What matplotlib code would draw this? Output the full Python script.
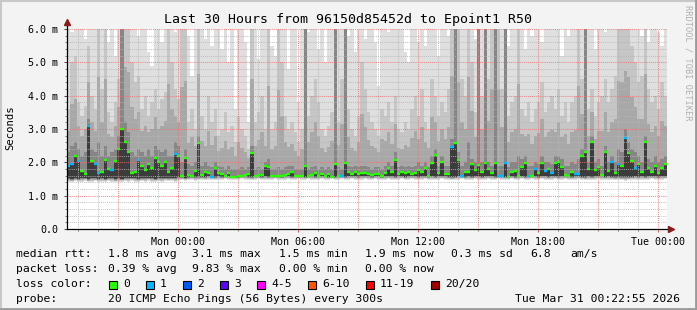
import numpy as np
import matplotlib
matplotlib.use("Agg")
import matplotlib.pyplot as plt
from matplotlib.patches import Rectangle
from matplotlib.lines import Line2D

# 10 minute steps, hours relative to Mon 00:00
t_start = -5.55
step_h = 1 / 6

med = [1.90, 1.95, 2.20, 2.04, 1.74, 1.65, 3.10, 2.04, 1.95, 1.67,
       1.72, 2.06, 1.80, 1.77, 2.04, 2.39, 3.01, 2.60, 2.30, 1.67,
       1.72, 2.06, 1.89, 1.77, 1.96, 1.82, 2.12, 2.01, 1.88, 2.01,
       1.72, 1.84, 2.24, 2.20, 1.60, 2.14, 1.62, 1.60, 1.74, 2.57,
       1.62, 1.72, 1.67, 1.55, 1.82, 1.67, 1.64, 1.60, 1.67, 1.57,
       1.55, 1.58, 1.60, 1.62, 1.64, 2.29, 1.60, 1.62, 1.62, 1.89,
       1.87, 1.58, 1.60, 1.58, 1.60, 1.62, 1.66, 1.72, 1.60, 1.58,
       1.60, 1.89, 1.58, 1.62, 1.67, 1.60, 1.64, 1.58, 1.66, 1.55,
       1.94, 1.60, 1.58, 1.99, 1.72, 1.64, 1.72, 1.66, 1.67, 1.67,
       1.64, 1.62, 1.66, 1.64, 1.58, 1.67, 1.84, 1.72, 2.07, 1.64,
       1.72, 1.67, 1.72, 1.64, 1.67, 1.77, 1.72, 1.84, 1.60, 1.99,
       2.22, 1.67, 2.02, 1.66, 1.64, 2.47, 2.57, 2.07, 1.60, 1.72,
       1.72, 1.94, 1.77, 1.91, 1.72, 1.97, 1.80, 1.67, 1.97, 1.58,
       1.60, 1.99, 1.57, 1.72, 1.74, 1.60, 1.87, 1.99, 1.60, 1.60,
       1.80, 1.67, 1.97, 1.74, 1.80, 1.67, 1.99, 2.02, 1.87, 1.62,
       1.58, 1.72, 1.64, 1.64, 2.20, 2.32, 1.80, 2.60, 1.77, 1.87,
       1.62, 2.32, 1.74, 2.02, 1.67, 1.94, 1.89, 2.74, 2.27, 2.04,
       1.84, 1.94, 1.72, 2.60, 1.84, 1.72, 1.89, 1.67, 1.84, 1.94]

loss = [1, 1, 0, 1, 0, 0, 1, 0, 1, 1,
        0, 0, 0, 1, 0, 0, 0, 0, 0, 0,
        0, 1, 0, 0, 0, 0, 0, 0, 0, 0,
        0, 0, 1, 0, 0, 0, 0, 0, 0, 0,
        0, 0, 0, 1, 0, 0, 0, 0, 0, 0,
        0, 0, 0, 0, 0, 0, 0, 0, 0, 0,
        0, 0, 0, 0, 0, 0, 0, 0, 0, 0,
        0, 0, 0, 0, 0, 0, 0, 0, 0, 0,
        0, 0, 1, 0, 0, 0, 0, 0, 0, 0,
        0, 0, 0, 0, 0, 0, 0, 0, 0, 0,
        0, 0, 0, 0, 0, 0, 0, 0, 0, 0,
        0, 0, 0, 0, 0, 1, 0, 0, 1, 0,
        0, 0, 0, 0, 0, 0, 0, 0, 0, 1,
        1, 1, 0, 0, 0, 0, 0, 0, 1, 0,
        1, 0, 0, 1, 0, 1, 0, 0, 0, 0,
        0, 0, 1, 1, 0, 0, 0, 0, 0, 0,
        0, 0, 0, 1, 0, 1, 0, 1, 0, 0,
        1, 0, 0, 0, 0, 0, 0, 0, 0, 0]

# smoke: lowest ping, dark core top, medium grey top, highest ping
lo = [1.42, 1.40, 1.43, 1.41, 1.42, 1.44, 1.40, 1.42, 1.43, 1.41,
      1.42, 1.41, 1.43, 1.42, 1.40, 1.42, 1.41, 1.43, 1.42, 1.44,
      1.42, 1.41, 1.43, 1.42, 1.44, 1.42, 1.41, 1.43, 1.42, 1.44,
      1.43, 1.44, 1.42, 1.45, 1.46, 1.44, 1.46, 1.47, 1.45, 1.46,
      1.47, 1.46, 1.48, 1.47, 1.46, 1.48, 1.47, 1.49, 1.48, 1.47,
      1.48, 1.47, 1.49, 1.48, 1.47, 1.46, 1.48, 1.49, 1.47, 1.48,
      1.47, 1.48, 1.49, 1.48, 1.47, 1.48, 1.49, 1.47, 1.48, 1.49,
      1.48, 1.47, 1.49, 1.48, 1.47, 1.48, 1.49, 1.48, 1.47, 1.49,
      1.47, 1.48, 1.49, 1.47, 1.48, 1.49, 1.48, 1.47, 1.48, 1.49,
      1.48, 1.47, 1.49, 1.48, 1.47, 1.48, 1.49, 1.48, 1.47, 1.48,
      1.49, 1.47, 1.48, 1.49, 1.48, 1.47, 1.48, 1.49, 1.47, 1.48,
      1.47, 1.48, 1.49, 1.48, 1.47, 1.46, 1.47, 1.48, 1.49, 1.47,
      1.48, 1.47, 1.49, 1.48, 1.47, 1.48, 1.49, 1.48, 1.47, 1.49,
      1.48, 1.47, 1.48, 1.49, 1.47, 1.48, 1.49, 1.47, 1.48, 1.49,
      1.48, 1.47, 1.49, 1.48, 1.47, 1.48, 1.49, 1.47, 1.48, 1.49,
      1.48, 1.47, 1.48, 1.49, 1.47, 1.46, 1.48, 1.47, 1.48, 1.49,
      1.48, 1.47, 1.48, 1.47, 1.46, 1.47, 1.46, 1.45, 1.46, 1.47,
      1.48, 1.47, 1.48, 1.47, 1.48, 1.49, 1.48, 1.47, 1.48, 1.49]

dark = [2.3, 2.5, 2.6, 2.4, 2.2, 2.3, 3.3, 2.4, 2.3, 2.6,
        2.2, 2.5, 2.2, 2.3, 2.4, 2.8, 6.5, 3.2, 2.9, 2.3,
        2.2, 2.4, 2.3, 2.2, 2.4, 2.2, 2.5, 2.4, 2.3, 2.4,
        2.2, 2.2, 2.6, 2.5, 2.0, 2.4, 1.95, 1.9, 2.0, 2.8,
        1.9, 2.0, 1.9, 1.85, 2.0, 1.9, 1.85, 1.8, 1.9, 1.8,
        1.8, 1.8, 1.85, 1.8, 1.85, 2.5, 1.8, 1.85, 1.8, 2.0,
        2.1, 1.8, 1.8, 1.85, 1.8, 1.85, 1.9, 1.9, 1.8, 1.8,
        1.8, 6.5, 1.8, 1.85, 1.9, 1.8, 1.85, 1.8, 1.85, 1.8,
        6.5, 1.85, 1.8, 6.5, 1.9, 1.85, 1.9, 1.85, 1.9, 1.9,
        1.85, 1.8, 1.85, 1.85, 1.8, 1.9, 2.0, 1.9, 2.3, 1.85,
        1.9, 1.85, 1.9, 1.85, 1.9, 2.0, 1.9, 2.0, 1.85, 2.2,
        2.4, 1.9, 2.2, 1.9, 1.9, 2.7, 6.5, 2.3, 1.9, 2.0,
        2.6, 2.1, 2.0, 6.5, 2.0, 6.5, 2.0, 1.9, 6.5, 1.9,
        1.9, 6.5, 1.85, 2.0, 2.0, 2.2, 2.1, 2.2, 1.9, 1.9,
        2.0, 1.95, 2.2, 2.0, 2.0, 1.95, 2.2, 2.2, 2.1, 1.9,
        1.9, 2.0, 1.95, 2.1, 2.4, 6.5, 2.0, 2.8, 2.0, 2.1,
        1.9, 2.5, 2.0, 2.2, 2.0, 2.4, 2.3, 3.0, 2.6, 2.4,
        2.3, 2.2, 2.0, 2.8, 2.1, 2.0, 2.2, 2.0, 2.1, 2.2]

upper = [3.6, 5.0, 5.2, 3.8, 3.4, 3.7, 5.5, 4.0, 3.6, 6.5,
         4.2, 6.5, 3.5, 3.2, 3.8, 4.5, 6.5, 6.5, 6.5, 5.0,
         4.4, 4.6, 3.6, 4.0, 3.4, 3.8, 4.2, 3.6, 3.9, 4.1,
         6.5, 5.0, 4.2, 3.9, 6.5, 6.5, 3.2, 3.6, 3.0, 6.5,
         3.4, 3.0, 4.0, 3.2, 3.6, 2.8, 3.0, 3.5, 2.9, 3.1,
         2.6, 3.4, 3.0, 2.8, 2.4, 6.5, 3.2, 3.5, 4.0, 3.0,
         6.5, 3.0, 3.2, 6.5, 5.0, 3.4, 3.0, 3.2, 2.9, 2.6,
         3.0, 6.5, 3.4, 4.0, 4.5, 3.8, 3.0, 2.8, 3.1, 3.5,
         6.5, 3.2, 4.5, 6.5, 3.6, 3.0, 2.8, 3.4, 5.0, 4.2,
         3.5, 3.2, 3.0, 2.8, 3.6, 3.4, 3.8, 3.2, 4.0, 3.0,
         2.9, 3.2, 3.0, 3.6, 4.0, 3.4, 4.2, 3.2, 3.0, 4.5,
         4.0, 3.4, 3.8, 3.5, 4.2, 6.5, 6.5, 6.5, 4.5, 4.0,
         6.5, 5.0, 3.5, 6.5, 4.0, 6.5, 4.5, 6.5, 3.6, 6.5,
         4.2, 6.5, 3.4, 3.8, 4.0, 6.5, 3.6, 3.4, 3.8, 3.2,
         3.6, 3.8, 4.4, 3.5, 3.8, 4.0, 3.6, 4.2, 3.4, 3.8,
         3.2, 3.8, 4.0, 6.5, 4.5, 6.5, 3.6, 4.2, 3.4, 3.8,
         4.0, 4.5, 3.8, 4.2, 4.6, 6.5, 6.5, 6.5, 6.5, 5.5,
         5.0, 4.4, 4.6, 6.5, 4.2, 3.8, 4.0, 3.6, 4.4, 4.0]

top = [6.5, 5.9, 6.5, 6.5, 6.5, 5.7, 6.5, 6.5, 6.5, 6.5,
       6.5, 6.5, 5.6, 6.5, 5.2, 6.5, 6.5, 6.5, 6.5, 6.5,
       6.5, 5.8, 6.5, 6.5, 5.3, 4.9, 6.5, 6.5, 5.6, 6.5,
       6.5, 6.5, 5.9, 6.5, 6.5, 6.5, 5.8, 4.6, 6.5, 6.5,
       6.5, 5.7, 6.5, 5.5, 6.5, 6.5, 5.4, 6.5, 5.0, 6.5,
       3.6, 6.5, 6.5, 5.6, 3.2, 6.5, 6.5, 5.1, 6.5, 6.5,
       6.5, 5.5, 5.2, 6.5, 6.5, 6.5, 4.8, 6.5, 6.5, 3.8,
       6.5, 6.5, 5.9, 6.5, 6.5, 5.4, 6.5, 5.0, 6.5, 6.5,
       6.5, 6.5, 6.5, 6.5, 5.8, 6.5, 5.3, 6.5, 6.5, 5.7,
       6.5, 6.5, 5.6, 4.3, 6.5, 6.5, 5.9, 6.5, 6.5, 6.5,
       6.5, 5.3, 5.0, 6.5, 6.5, 5.6, 6.5, 5.5, 6.5, 6.5,
       6.5, 5.2, 6.5, 6.5, 5.8, 6.5, 6.5, 6.5, 6.5, 6.5,
       6.5, 6.5, 5.7, 6.5, 6.5, 6.5, 6.5, 6.5, 5.9, 6.5,
       6.5, 6.5, 5.5, 6.5, 6.5, 6.5, 6.5, 5.4, 6.5, 5.8,
       6.5, 6.5, 5.6, 6.5, 6.5, 6.5, 6.5, 6.5, 5.2, 6.5,
       5.8, 6.5, 6.5, 6.5, 6.5, 6.5, 6.5, 6.5, 5.4, 6.5,
       6.5, 5.9, 6.5, 6.5, 6.5, 6.5, 6.5, 6.5, 6.5, 6.5,
       6.5, 6.5, 5.8, 6.5, 5.6, 6.5, 6.5, 5.9, 5.5, 6.5]

tick_hours = [0, 6, 12, 18, 24]
tick_labels = ["Mon 00:00", "Mon 06:00", "Mon 12:00", "Mon 18:00", "Tue 00:00"]
y_ticks = [0, 1, 2, 3, 4, 5, 6]
y_labels = ["0.0", "1.0 m", "2.0 m", "3.0 m", "4.0 m", "5.0 m", "6.0 m"]

loss_names = ["0", "1", "2", "3", "4-5", "6-10", "11-19", "20/20"]
loss_colors = ["#26ff00", "#00b8ff", "#0059ff", "#5e00ff", "#ff00ff",
               "#ff5500", "#ff0000", "#a10000"]

rtt_stats = ["1.8 ms avg", "3.1 ms max", "1.5 ms min", "1.9 ms now", "0.3 ms sd"]
loss_stats = ["0.39 % avg", "9.83 % max", "0.00 % min", "0.00 % now"]

mono = "DejaVu Sans Mono"
W, H = 697, 310
bg = "#f3f3f3"

fig = plt.figure(figsize=(W / 100, H / 100), dpi=100, facecolor=bg)
ax = fig.add_axes([67 / W, 81 / H, 600 / W, 200 / H])
ax.set_facecolor("white")

t = t_start + np.arange(len(med)) * step_h
med_a = np.array(med)
lo_a = np.array(lo)
dark_a = np.array(dark)
upper_a = np.array(upper)
top_a = np.array(top)
half_a = (dark_a + upper_a) / 2

kw = dict(width=step_h, align="edge", linewidth=0, zorder=1)
ax.bar(t, top_a - lo_a, bottom=lo_a, color="#dfdfdf", **kw)
ax.bar(t, upper_a - lo_a - 0.03, bottom=lo_a + 0.03, color="#c6c6c6", **kw)
ax.bar(t, half_a - lo_a - 0.05, bottom=lo_a + 0.05, color="#a8a8a8", **kw)
ax.bar(t, dark_a - lo_a - 0.07, bottom=lo_a + 0.07, color="#868686", **kw)
ax.bar(t, med_a - lo_a - 0.10, bottom=lo_a + 0.10, color="#3c3c3c", **kw)

# median marks coloured by loss
for ti, m, l in zip(t, med_a, loss):
    ax.plot([ti, ti + step_h], [m, m], color=loss_colors[l], lw=1.7,
            solid_capstyle="butt", zorder=4)

x0, x1 = t_start, t_start + 30
ax.set_xlim(x0, x1)
ax.set_ylim(0, 6.0)

# grid drawn over the smoke
for h in np.arange(-5, 25, 1):
    if h % 3 == 0:
        continue
    ax.axvline(h, color="#b8b8b8", lw=0.75, ls=(0, (1, 1)), alpha=0.8, zorder=3)
for v in np.arange(0.2, 6.0, 0.2):
    if abs(v - round(v)) < 1e-6:
        continue
    ax.axhline(v, color="#b8b8b8", lw=0.75, ls=(0, (1, 1)), alpha=0.8, zorder=3)
for h in np.arange(-3, 25, 3):
    ax.axvline(h, color="#f07070", lw=0.75, ls=(0, (1, 1)), alpha=0.8, zorder=3)
for v in y_ticks[1:]:
    ax.axhline(v, color="#f07070", lw=0.75, ls=(0, (1, 1)), alpha=0.8, zorder=3)

for s in ax.spines.values():
    s.set_visible(False)

ax.set_xticks(tick_hours)
ax.set_xticklabels(tick_labels, fontfamily=mono, fontsize=7.2)
ax.set_xticks(np.arange(-5, 25, 1), minor=True)
ax.set_yticks(y_ticks)
ax.set_yticklabels(y_labels, fontfamily=mono, fontsize=7.2)
ax.set_yticks(np.arange(0.2, 6.0, 0.2), minor=True)
ax.tick_params(axis="x", which="major", length=2, width=0.75, color="#e06060",
               pad=3.5, direction="out")
ax.tick_params(axis="y", which="major", length=2, width=0.75, color="#505050",
               pad=4.5, direction="out")
ax.tick_params(which="minor", length=1.5, width=0.75, color="#808080", direction="out")

# axis lines with arrows
ax.add_line(Line2D([x0, x1 + 0.2], [0, 0], color="black", lw=0.9, clip_on=False, zorder=5))
ax.add_line(Line2D([x0, x0], [0, 6.2], color="black", lw=0.9, clip_on=False, zorder=5))
ax.plot([x1 + 0.22], [0], marker=">", color="#8b1a1a", ms=4, clip_on=False, zorder=6)
ax.plot([x0], [6.22], marker="^", color="#8b1a1a", ms=4, clip_on=False, zorder=6)


def ftext(x, y, s, **k):
    k.setdefault("fontfamily", mono)
    k.setdefault("fontsize", 8.2)
    k.setdefault("va", "center")
    fig.text(x / W, 1 - y / H, s, **k)


ftext(347.5, 19, "Last 30 Hours from 96150d85452d to Epoint1 R50",
      fontsize=9.5, ha="center")
ftext(10, 128, "Seconds", fontsize=7.6, ha="center", rotation=90)
ftext(688, 5, "RRDTOOL / TOBI OETIKER", fontsize=6.2, ha="center", va="top",
      rotation=270, color="#b0b0b0")

ftext(16, 254, "median rtt:")
for x, s in zip([107.5, 192.5, 279, 365, 451], rtt_stats):
    ftext(x, 254, s)
ftext(530, 254, "6.8")
ftext(570, 254, "am/s")

ftext(16, 269, "packet loss:")
for x, s in zip([107.5, 192.5, 279, 365], loss_stats):
    ftext(x, 269, s)

ftext(16, 284, "loss color:")
sq_x = [108.5, 145.5, 182.5, 219.5, 256.5, 307.5, 365.5, 430.5]
for x, name, c in zip(sq_x, loss_names, loss_colors):
    fig.patches.append(Rectangle((x / W, 1 - 288.5 / H), 8 / W, 8 / H,
                                 transform=fig.transFigure, facecolor=c,
                                 edgecolor="black", lw=0.8))
    ftext(x + 14.5, 284, name)

ftext(16, 299, "probe:")
ftext(107.5, 299, "20 ICMP Echo Pings (56 Bytes) every 300s")
ftext(680, 299, "Tue Mar 31 00:22:55 2026", ha="right")

# image frame
fig.add_artist(Line2D([0, 1], [1 - 0.5 / H, 1 - 0.5 / H], color="#c8c8c8", lw=1.5))
fig.add_artist(Line2D([0.5 / W, 0.5 / W], [0, 1], color="#c8c8c8", lw=1.5))
fig.add_artist(Line2D([0, 1], [1 / H, 1 / H], color="#9a9a9a", lw=2))
fig.add_artist(Line2D([1 - 1 / W, 1 - 1 / W], [0, 1], color="#9a9a9a", lw=2))

fig.savefig("out.png", dpi=100, facecolor=bg)
